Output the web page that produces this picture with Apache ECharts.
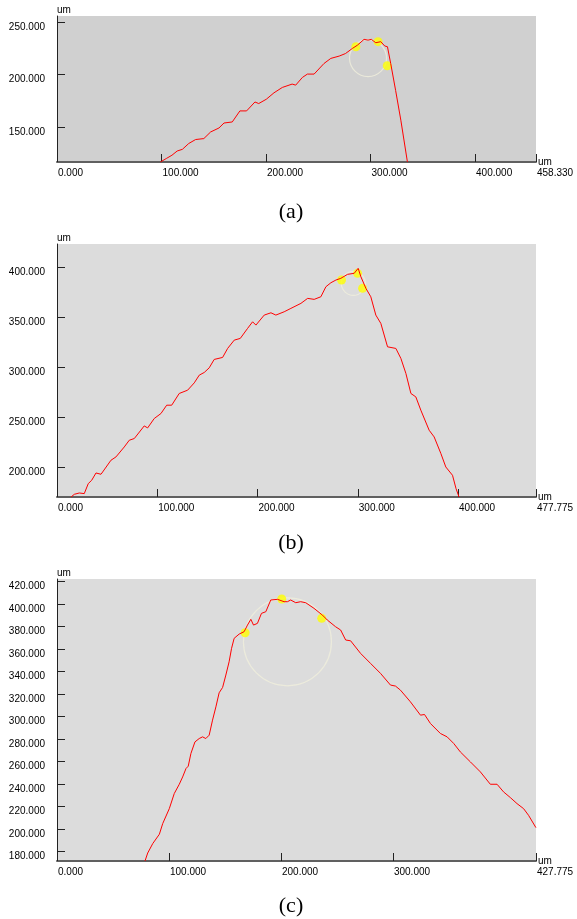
<!DOCTYPE html>
<html>
<head>
<meta charset="utf-8">
<script src="https://cdn.jsdelivr.net/npm/echarts@6/dist/echarts.min.js"></script>
<style>
html,body{margin:0;padding:0;background:#fff;}
#chart{width:577px;height:919px;}
</style>
</head>
<body>
<div id="chart"></div>
<script>
// ---- Panel (a) ----
var xA = [99, 105, 110, 115, 120, 126, 132.6, 140.5, 147, 155, 159.8, 167.7, 175, 181.4, 189.4, 193, 200.3, 207.6, 215.6, 225, 228.4, 234.8, 239.6, 246, 255.5, 262, 270, 276, 282.7, 287.5, 293.8, 297.6, 300.8, 305, 309.8, 313.6, 316.2, 319.3, 324, 329, 335.3];
var yA = [117, 120.5, 123.4, 127.4, 129, 134.5, 138.3, 139.2, 145.5, 149.3, 154, 155, 165.5, 165.5, 174, 172.5, 176.6, 182.7, 187.8, 191, 190, 197.3, 200.5, 200.5, 210.6, 215.4, 217.6, 220, 224.9, 228, 233.5, 232.8, 233.5, 230.3, 231.3, 227.2, 226.5, 210.6, 185, 156.7, 117];
var dotsA = [[286, 226.5], [307.2, 231.3], [316, 208.4]];
var circleA = [297.6, 215.7];
var xTicksA = [0, 100, 200, 300, 400, 458.33];
var yTicksA = [150, 200, 250];

// ---- Panel (b) ----
var xB = [14, 17.3, 22.2, 27.2, 31.2, 34.6, 38.9, 43.9, 53.8, 58.8, 67.1, 72.1, 77.1, 87, 90.4, 97, 103.7, 109.4, 114.4, 121.9, 130.3, 136.9, 141.9, 146.9, 151.8, 156.8, 165.2, 170.2, 176.8, 182.8, 190.1, 195.1, 198.4, 206.7, 213.4, 218.3, 226.6, 233.3, 243.3, 250, 256.5, 263.2, 268.2, 273.2, 278.2, 283.1, 289.8, 296.4, 300.4, 303.1, 308.1, 313, 318, 323, 329.7, 338, 343, 348, 353, 357.9, 362.9, 371.2, 376.2, 382.9, 387.8, 394.5, 398, 401];
var yB = [170.6, 173.3, 174.6, 174, 184, 187.3, 194.6, 193.3, 207.3, 210.6, 220.6, 227.3, 229, 241.6, 239.6, 249, 254, 262.3, 262.3, 274, 277.3, 284.6, 292.3, 295, 299.6, 308, 310, 319, 327.3, 329, 339, 345.6, 342.3, 352.3, 354.6, 352.3, 355.6, 359, 364, 369, 368, 370.6, 380.6, 384.6, 387.3, 389, 393, 394, 399, 390.6, 379, 370.6, 352.3, 344, 320.6, 319, 309, 294, 274, 270.6, 257.3, 237.3, 230.6, 214, 200.6, 192.3, 179, 170.6];
var dotsB = [[283.8, 387.3], [299.8, 394], [304.8, 379]];
var circleB = [295.6, 384];
var xTicksB = [0, 100, 200, 300, 400, 477.775];
var yTicksB = [200, 250, 300, 350, 400];

// ---- Panel (c) ----
var xC = [78.6, 81, 85.5, 91.4, 94.4, 100.3, 104.7, 109.2, 112.2, 115.2, 117.2, 119.6, 123.2, 127, 130, 132.9, 135.9, 138.9, 141.9, 144.8, 147.9, 150.8, 153.7, 155.9, 158.2, 162.7, 167.1, 170.1, 173.1, 175.5, 179, 182.6, 186.5, 188, 190.9, 196.9, 202.8, 205.8, 208.7, 213.2, 217.6, 222.1, 229.5, 237, 241.4, 248.8, 253.3, 257.8, 262.2, 271.1, 280, 288.9, 297.8, 302.3, 306.7, 315.6, 324.6, 328.2, 333.5, 342.4, 348.4, 354.3, 360.2, 369.2, 378.1, 387, 393, 398.8, 404.8, 410.8, 416.7, 421.1, 427.7];
var yC = [171.4, 178.5, 186.9, 195.2, 204.7, 218, 231.4, 239.7, 246.2, 253.7, 255.8, 267.1, 277.4, 280.4, 281.9, 280.4, 283.4, 296.8, 308.6, 321.1, 325.9, 336.9, 348.7, 360.7, 369.6, 373.4, 375.5, 381.4, 386.5, 381.4, 382.9, 391.8, 393.3, 391.8, 403.7, 404.3, 402.2, 402.2, 403.7, 401.3, 402.2, 401.3, 396.3, 390.3, 385.9, 379.9, 377, 368.1, 367.4, 356.2, 347.3, 338.4, 328, 327.1, 323.5, 313.1, 301.2, 301.8, 293.8, 284.9, 281.9, 276, 268.5, 259.6, 250.7, 239.7, 239.7, 232.9, 227.9, 222.5, 218, 212.1, 201.1];
var dotsC = [[168, 374.6], [200.7, 404.6], [236.4, 387.4]];
var circleC = [205.8, 366.5];
var xTicksC = [0, 100, 200, 300, 427.775];
var yTicksC = [180, 200, 220, 240, 260, 280, 300, 320, 340, 360, 380, 400, 420];

var captions = ['(a)', '(b)', '(c)'];

// ---- layout / style ----
var FONT = "'Liberation Sans', Arial, sans-serif";
var panels = [
  {x: xA, y: yA, dots: dotsA, circle: circleA, xt: xTicksA, yt: yTicksA, xmax: 458.33, ymin: 116.95, ymax: 255.7,
   top: 16, height: 146, bg: '#d0d0d0', circleSize: 37, capTop: 201},
  {x: xB, y: yB, dots: dotsB, circle: circleB, xt: xTicksB, yt: yTicksB, xmax: 477.775, ymin: 170.6, ymax: 423.3,
   top: 244, height: 253, bg: '#dcdcdc', circleSize: 24, capTop: 532},
  {x: xC, y: yC, dots: dotsC, circle: circleC, xt: xTicksC, yt: yTicksC, xmax: 427.775, ymin: 171.4, ymax: 422.4,
   top: 579, height: 282, bg: '#dcdcdc', circleSize: 88, capTop: 895}
];

function zip(a, b) { return a.map(function (v, i) { return [v, b[i]]; }); }
function fmt(v) { return Number(v).toFixed(3); }

var grid = [], xAxis = [], yAxis = [], series = [], title = [];
panels.forEach(function (p, i) {
  grid.push({left: 57, width: 479, top: p.top, height: p.height, show: true,
    backgroundColor: p.bg, borderWidth: 0, containLabel: false});
  xAxis.push({
    gridIndex: i, type: 'value', min: 0, max: p.xmax,
    axisLine: {show: true, onZero: false, lineStyle: {color: '#606060', width: 2}},
    axisTick: {show: true, inside: true, length: 8, customValues: p.xt, lineStyle: {color: '#222', width: 1}},
    axisLabel: {customValues: p.xt, formatter: fmt, align: 'left', margin: 6, padding: [0, 0, 0, 1],
      fontSize: 10, color: '#000', fontFamily: FONT, hideOverlap: false},
    splitLine: {show: false},
    name: 'um', nameLocation: 'end', nameGap: 2,
    nameTextStyle: {fontSize: 10, color: '#000', fontFamily: FONT, align: 'left', verticalAlign: 'middle', padding: [2, 0, 0, 0]}
  });
  yAxis.push({
    gridIndex: i, type: 'value', min: p.ymin, max: p.ymax,
    axisLine: {show: true, onZero: false, lineStyle: {color: '#222', width: 1}},
    axisTick: {show: true, inside: true, length: 8, customValues: p.yt, lineStyle: {color: '#222', width: 1}},
    axisLabel: {customValues: p.yt, formatter: fmt, margin: 12, verticalAlign: 'top',
      fontSize: 10, color: '#000', fontFamily: FONT},
    splitLine: {show: false},
    name: 'um', nameLocation: 'end', nameGap: 1,
    nameTextStyle: {fontSize: 10, color: '#000', fontFamily: FONT, align: 'left', verticalAlign: 'bottom'}
  });
  series.push({
    type: 'scatter', xAxisIndex: i, yAxisIndex: i, data: [p.circle], symbol: 'circle',
    symbolSize: p.circleSize, z: 1, silent: true,
    itemStyle: {color: 'rgba(0,0,0,0)', borderColor: '#f0efdc', borderWidth: 1.2}
  });
  series.push({
    type: 'scatter', xAxisIndex: i, yAxisIndex: i, data: p.dots, symbol: 'circle',
    symbolSize: 9, z: 2, silent: true, itemStyle: {color: '#ffff00'}
  });
  series.push({
    type: 'line', xAxisIndex: i, yAxisIndex: i, data: zip(p.x, p.y), showSymbol: false,
    z: 3, silent: true, clip: true, lineStyle: {color: '#ff0000', width: 1}
  });
  title.push({text: captions[i], left: 291, top: p.capTop, textAlign: 'center', padding: 0,
    textStyle: {fontFamily: "'Liberation Serif', 'Times New Roman', serif", fontSize: 22, fontWeight: 'normal', color: '#000'}});
});

var chart = echarts.init(document.getElementById('chart'), null, {renderer: 'canvas'});
chart.setOption({animation: false, backgroundColor: '#fff', title: title, grid: grid, xAxis: xAxis, yAxis: yAxis, series: series});
</script>
</body>
</html>
